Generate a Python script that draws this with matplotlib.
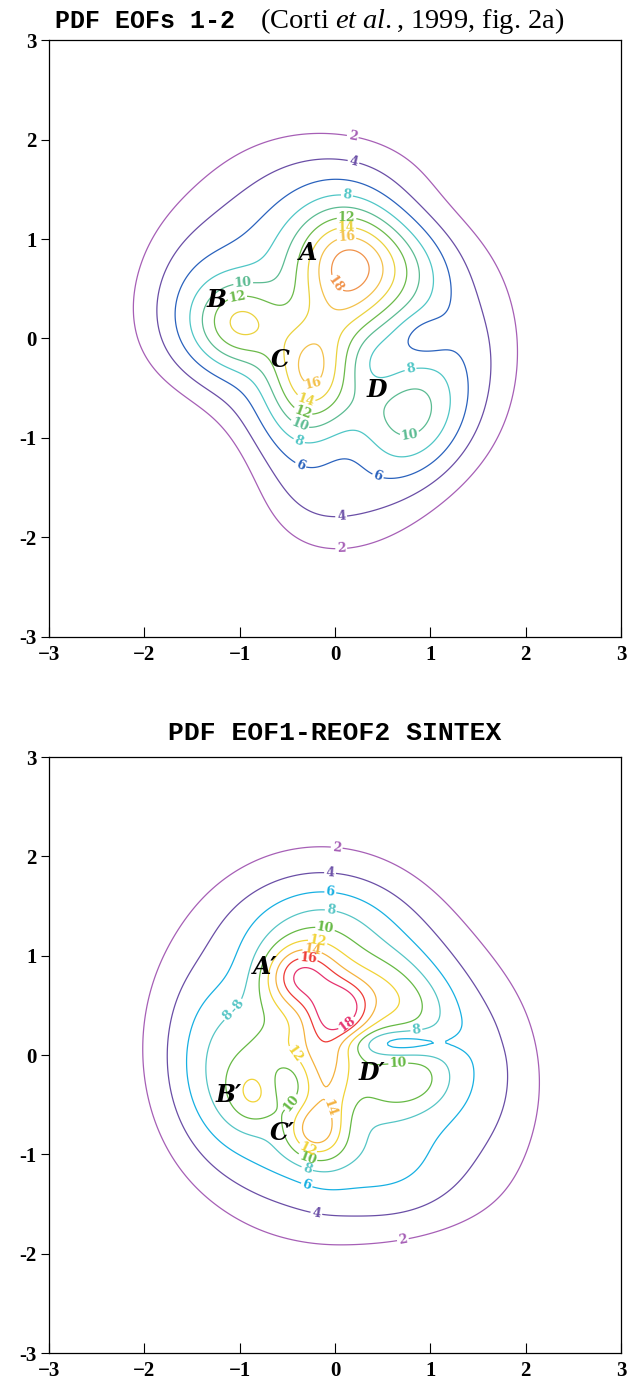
import matplotlib
matplotlib.use("Agg")
import matplotlib.pyplot as plt
import numpy as np

plt.rcParams["mathtext.fontset"] = "custom"
plt.rcParams["mathtext.rm"] = "Liberation Serif"
plt.rcParams["mathtext.it"] = "Liberation Serif:italic"

# Contour levels and colours (same levels in both panels)
levels = [2, 4, 6, 8, 10, 12, 14, 16, 18]
top_colors = ["#a65fb6", "#6a4ea6", "#2a62bd", "#4fc6c6", "#5bbb92",
              "#6cba4a", "#ead23e", "#f3c14c", "#f0924a"]
bot_colors = ["#a65fb6", "#6a4ea6", "#17b0e2", "#55c5c5", "#66b944",
              "#f1d336", "#f4b23e", "#ee3a35", "#e6326e"]

# Flat-topped background of each PDF: centre, half-widths, height
top_base = {"x": -0.30, "y": -0.05, "sx": 1.45, "sy": 1.6, "h": 7.0}
bot_base = {"x": -0.15, "y": 0.10, "sx": 1.45, "sy": 1.55, "h": 7.5}

# Kernels on top of it (centre, widths, height);
# negative heights carve the troughs between the regimes
#          A     C      B     D     A-C   A-E   C-S    E     N     S
top_cx = [0.12, -0.25, -1.00, 0.85, 0.10, 0.75, -0.30, 1.60, 0.15, 0.05,
          -1.55, 0.92, 0.50, -1.60, 0.10]
#          W     dip1  dip2  dip3   dip4
top_cy = [0.78, -0.28, 0.15, -0.75, 0.25, 0.68, -0.75, -0.10, 1.70, -1.60,
          0.35, 0.02, -0.25, -1.40, -1.15]
top_sx = [0.40, 0.30, 0.32, 0.40, 0.28, 0.40, 0.35, 0.35, 0.70, 0.60,
          0.35, 0.20, 0.30, 0.70, 0.30]
top_sy = [0.40, 0.36, 0.30, 0.45, 0.32, 0.35, 0.35, 0.70, 0.30, 0.40,
          0.50, 0.17, 0.25, 0.70, 0.35]
top_amp = [10.8, 8.5, 7.5, 5.9, 2.2, 3.5, 2.5, 2.2, 1.0, 1.5,
           1.2, -2.2, -2.5, -6.0, -1.8]

#          A'     A1     A2    ridge  C'     B'     D'    NE    NE2   D2
bot_cx = [-0.14, -0.38, 0.08, -0.10, -0.24, -0.84, 0.65, 0.55, 0.90, 0.95,
          -1.15, -0.50, 1.70, 0.90, -0.20, -0.10, 0.65, -0.50, -1.05]
#          W      T      E     SE    C-S    N    notch  min    NW
bot_cy = [0.62, 0.80, 0.45, -0.20, -0.74, -0.40, -0.30, 0.62, 0.45, -0.20,
          -0.20, 0.08, -0.35, -1.35, -0.95, 1.35, 0.12, -0.30, 0.80]
bot_sx = [0.45, 0.25, 0.20, 0.20, 0.20, 0.20, 0.32, 0.32, 0.25, 0.22,
          0.35, 0.25, 0.45, 0.55, 0.35, 0.50, 0.35, 0.15, 0.30]
bot_sy = [0.48, 0.22, 0.20, 0.50, 0.18, 0.22, 0.22, 0.28, 0.22, 0.20,
          0.50, 0.15, 0.80, 0.40, 0.18, 0.30, 0.10, 0.15, 0.30]
bot_amp = [4.5, 7.0, 6.5, 5.5, 5.0, 3.6, 3.5, 3.5, 1.5, 1.5,
           2.5, 1.5, 2.8, 2.0, 1.5, 1.5, -4.0, -1.0, -0.8]

# Contour label anchor points
top_label_pts = [(0.19, 2.05), (0.07, -2.21), (0.19, 1.76), (0.07, -1.87),
                 (-0.35, -1.25), (0.42, -1.47), (0.12, 1.39), (-0.40, -1.10),
                 (0.79, -0.30), (-0.96, 0.52), (-0.40, -0.94), (0.79, -1.0),
                 (0.12, 1.19), (-1.02, 0.39), (-0.35, -0.77), (0.12, 1.11),
                 (-0.30, -0.60), (0.12, 1.02), (-0.23, -0.44), (0.12, 0.62)]
bot_label_pts = [(0.02, 2.11), (0.73, -1.96), (-0.05, 1.86), (-0.18, -1.51),
                 (-0.05, 1.63), (-0.28, -1.26), (-0.05, 1.41), (-1.02, 0.52),
                 (0.85, 0.28), (-0.28, -1.11), (-0.10, 1.30), (-1.02, 0.30),
                 (-0.47, -0.47), (0.67, -0.22), (-0.28, -1.02), (-0.17, 1.20),
                 (-0.46, -0.02), (-0.28, -0.93), (-0.23, 1.10), (-0.10, -0.55),
                 (-0.28, 1.01), (0.02, 0.45)]

top_letters = ["A", "B", "C", "D"]
top_letter_pos = [(-0.28, 0.86), (-1.24, 0.39), (-0.58, -0.22), (0.44, -0.52)]
bot_letters = ["A\u2032", "B\u2032", "C\u2032", "D\u2032"]
bot_letter_pos = [(-0.73, 0.89), (-1.12, -0.40), (-0.55, -0.79), (0.39, -0.18)]

ticks = [-3, -2, -1, 0, 1, 2, 3]
xtick_labels = ["\u22123", "\u22122", "\u22121", "0", "1", "2", "3"]
ytick_labels = ["-3", "-2", "-1", "0", "1", "2", "3"]

grid = np.linspace(-3, 3, 301)
X, Y = np.meshgrid(grid, grid)


def density(base, cx, cy, sx, sy, amp):
    r2 = ((X - base["x"]) / base["sx"]) ** 2 + ((Y - base["y"]) / base["sy"]) ** 2
    z = base["h"] * np.exp(-0.5 * r2 ** 2)
    for x0, y0, a, b, h in zip(cx, cy, sx, sy, amp):
        z += h * np.exp(-0.5 * (((X - x0) / a) ** 2 + ((Y - y0) / b) ** 2))
    return z


def draw_panel(ax, z, colors, label_pts, letters, letter_pos):
    cs = ax.contour(X, Y, z, levels=levels, colors=colors, linewidths=0.9)
    labels = ax.clabel(cs, inline=True, fmt="%d", fontsize=9,
                       manual=label_pts, inline_spacing=2)
    for t in labels:
        t.set_fontfamily("DejaVu Serif")
        t.set_fontweight("bold")
    for s, (lx, ly) in zip(letters, letter_pos):
        ax.text(lx, ly, s, fontsize=17, fontfamily="DejaVu Serif",
                fontweight="bold", style="italic",
                ha="center", va="center", color="black")
    ax.set_xlim(-3, 3)
    ax.set_ylim(-3, 3)
    ax.set_xticks(ticks)
    ax.set_yticks(ticks)
    ax.set_xticklabels(xtick_labels, fontfamily="Liberation Serif",
                       fontweight="bold", fontsize=15)
    ax.set_yticklabels(ytick_labels, fontfamily="Liberation Serif",
                       fontweight="bold", fontsize=15)
    ax.tick_params(axis="x", direction="in", length=7, width=0.8, pad=6)
    ax.tick_params(axis="y", direction="out", length=6, width=0.8, pad=3)
    for sp in ax.spines.values():
        sp.set_linewidth(0.9)


fig = plt.figure(figsize=(6.43, 13.85), dpi=100)
ax1 = fig.add_axes([0.0762, 0.5401, 0.8896, 0.4310])
ax2 = fig.add_axes([0.0762, 0.0231, 0.8896, 0.4303])

z_top = density(top_base, top_cx, top_cy, top_sx, top_sy, top_amp)
z_bot = density(bot_base, bot_cx, bot_cy, bot_sx, bot_sy, bot_amp)

draw_panel(ax1, z_top, top_colors, top_label_pts, top_letters, top_letter_pos)
draw_panel(ax2, z_bot, bot_colors, bot_label_pts, bot_letters, bot_letter_pos)

# Titles
fig.text(55 / 643, 1 - 21 / 1385, "PDF EOFs 1-2", fontfamily="Liberation Mono",
         fontweight="bold", fontsize=18, va="center", ha="left")
fig.text(260 / 643, 1 - 21 / 1385,
         r"(Corti $\mathit{et\ al.}$, 1999, fig. 2a)",
         fontfamily="Liberation Serif", fontsize=20.5, va="center", ha="left")
ax2.set_title("PDF EOF1-REOF2 SINTEX", fontfamily="Liberation Mono",
              fontweight="bold", fontsize=19, pad=12)

fig.savefig("out.png", dpi=100)
